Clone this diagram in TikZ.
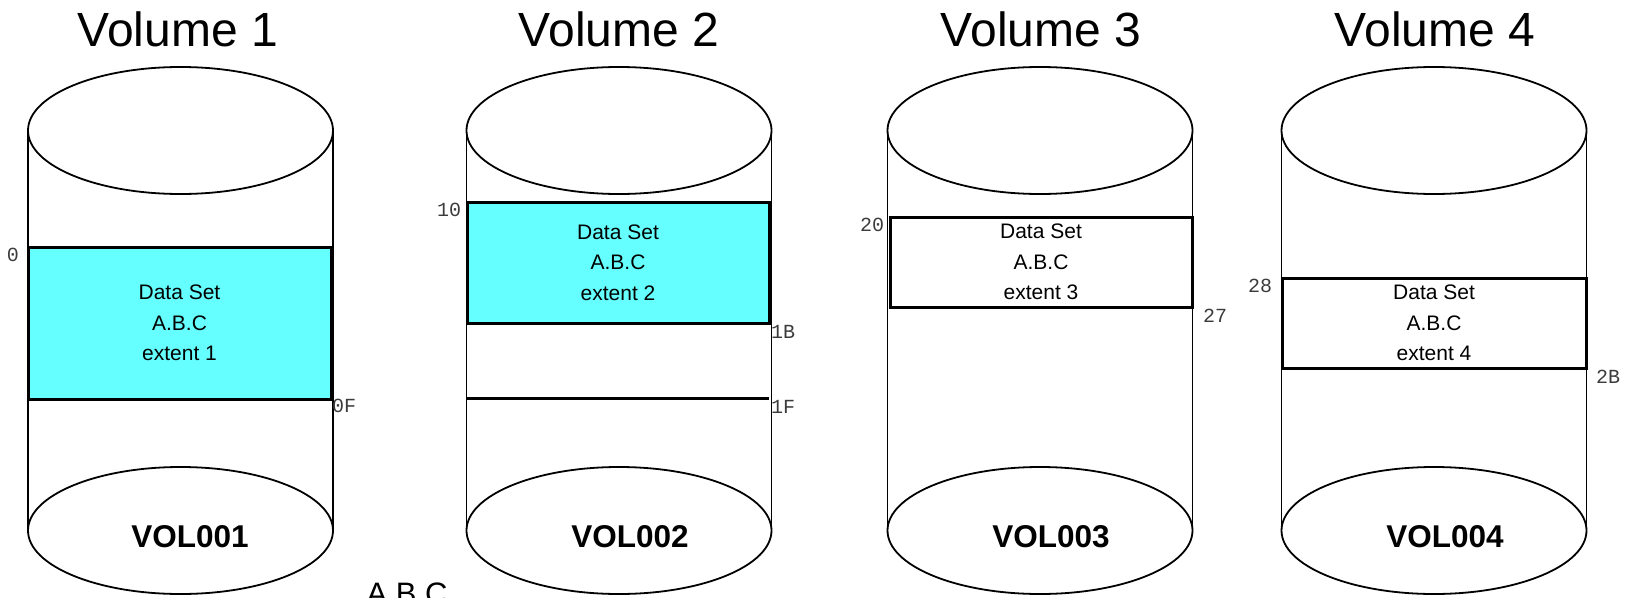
\documentclass[tikz,border=0pt]{standalone}
\usepackage{fontspec}
\setmainfont{Liberation Sans}
\setmonofont{Liberation Mono}
\usetikzlibrary{shapes.geometric}
\definecolor{extcyan}{RGB}{102,255,255}
\definecolor{lblgray}{RGB}{60,60,60}
\tikzset{
  disk/.style={ellipse, draw, line width=1.8pt, minimum width=305pt, minimum height=127pt, inner sep=0pt, outer sep=0pt},
  side/.style={line width=1.8pt},
  extent/.style={draw, line width=3pt, inner sep=0pt, outer sep=0pt, align=center,
     font=\fontsize{21pt}{30.5pt}\selectfont},
  title/.style={anchor=base, font=\fontsize{48pt}{57pt}\selectfont},
  vol/.style={anchor=base, font=\fontsize{31.5pt}{37pt}\selectfont\bfseries},
  addr/.style={font=\fontsize{20pt}{24pt}\selectfont\ttfamily, text=lblgray, inner sep=0pt},
}
\begin{document}
\begin{tikzpicture}[x=1pt,y=-1pt]
\path[use as bounding box, clip] (0,0) rectangle (1627,597);
% titles
\node[title] (t1) at (178,46) {Volume 1};
\node[title] (t2) at (619,46) {Volume 2};
\node[title] (t3) at (1041,46) {Volume 3};
\node[title] (t4) at (1435,46) {Volume 4};
% cylinders
\foreach \i/\cx in {1/180.5, 2/619, 3/1040, 4/1434}{
  \node[disk] (top\i) at (\cx,130.5) {};
  \node[disk] (bot\i) at (\cx,530.5) {};
  \draw[side] (top\i.west) -- (bot\i.west);
  \draw[side] (top\i.east) -- (bot\i.east);
}
% volume labels
\node[vol] (v1) at (190,547) {VOL001};
\node[vol] (v2) at (630,547) {VOL002};
\node[vol] (v3) at (1051,547) {VOL003};
\node[vol] (v4) at (1445,547) {VOL004};
% extents
\node[extent, fill=extcyan, minimum width=303pt, minimum height=152pt] (e1) at (179.5,323) {Data Set\\A.B.C\\extent 1};
\node[extent, fill=extcyan, minimum width=302pt, minimum height=121pt] (e2) at (618,262.5) {Data Set\\A.B.C\\extent 2};
\node[extent, fill=white, minimum width=302pt, minimum height=90pt] (e3) at (1041,262) {Data Set\\A.B.C\\extent 3};
\node[extent, fill=white, minimum width=304pt, minimum height=90pt] (e4) at (1434,323) {Data Set\\A.B.C\\extent 4};
% line at 1F in volume 2
\coordinate (f1) at (467,398);
\coordinate (f2) at (769,398);
\draw[line width=3pt] (f1) -- (f2);
% addresses
\node[addr] (a0) at (13,255) {0};
\node[addr, anchor=west] (a0F) at (332,406) {0F};
\node[addr] (a10) at (449,210) {10};
\node[addr, anchor=west] (a1B) at (771,332) {1B};
\node[addr, anchor=west] (a1F) at (771,407) {1F};
\node[addr] (a20) at (872,225) {20};
\node[addr] (a27) at (1215,316) {27};
\node[addr] (a28) at (1260,286) {28};
\node[addr] (a2B) at (1608,377) {2B};
% bottom label
\node[anchor=base, font=\fontsize{31pt}{37pt}\selectfont] (abc) at (407,604) {A.B.C};
\end{tikzpicture}
\end{document}
